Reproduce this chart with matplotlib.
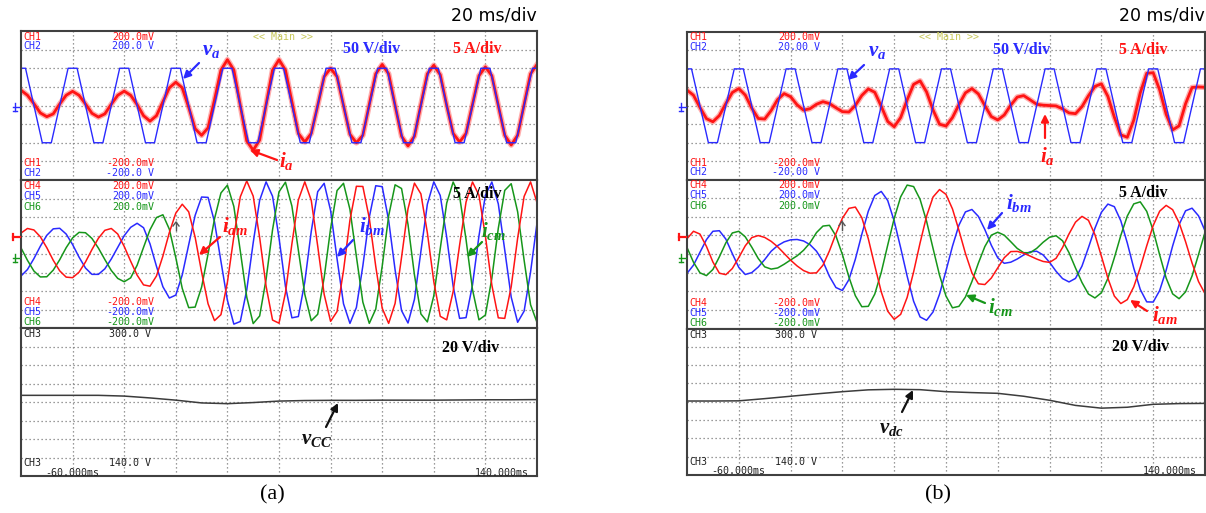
import numpy as np
import matplotlib
matplotlib.use("Agg")
import matplotlib.pyplot as plt
from matplotlib.patches import FancyArrowPatch
from matplotlib.lines import Line2D

plt.rcParams['mathtext.fontset'] = 'custom'
plt.rcParams['mathtext.it'] = 'Liberation Serif:italic:bold'
plt.rcParams['mathtext.rm'] = 'Liberation Serif:bold'
plt.rcParams['mathtext.bf'] = 'Liberation Serif:bold'

# ---------------- data (time in ms, amplitude in screen divisions) ----------------
t_ms = np.arange(-60, 140.01, 2.5)     # sample times of the oscillating traces
t_dc = np.arange(-60, 140.01, 10)      # sample times of the dc-link traces

# grid voltage v_a (trapezoidal), corner points
va_t = [-60, -58.25, -51.75, -48.25, -41.75, -38.25, -31.75, -28.25, -21.75, -18.25,
        -11.75, -8.25, -1.75, 1.75, 8.25, 11.75, 18.25, 21.75, 28.25, 31.75,
        38.25, 41.75, 48.25, 51.75, 58.25, 61.75, 68.25, 71.75, 78.25, 81.75,
        88.25, 91.75, 98.25, 101.75, 108.25, 111.75, 118.25, 121.75, 128.25, 131.75,
        138.25, 140]
va_a = [2, 2, -2, -2, 2, 2, -2, -2, 2, 2, -2, -2, 2, 2, -2, -2, 2, 2, -2, -2,
        2, 2, -2, -2, 2, 2, -2, -2, 2, 2, -2, -2, 2, 2, -2, -2, 2, 2, -2, -2, 2, 2]
va_b = [2, 2, -2, -2, 2, 2, -2, -2, 2, 2, -2, -2, 2, 2, -2, -2, 2, 2, -2, -2,
        2, 2, -2, -2, 2, 2, -2, -2, 2, 2, -2, -2, 2, 2, -2, -2, 2, 2, -2, -2, 2, 2]

ia_a = [0.82, 0.55, 0.10, -0.40, -0.60, -0.45, 0.08, 0.55, 0.76, 0.55,
        0.08, -0.42, -0.62, -0.45, 0.07, 0.55, 0.77, 0.55, 0.05, -0.55,
        -0.84, -0.55, 0.20, 0.95, 1.25, 0.95, -0.10, -1.25, -1.60, -1.20,
        0.30, 1.90, 2.46, 1.90, 0.00, -1.90, -2.40, -1.85, 0.05, 1.90,
        2.46, 1.90, 0.20, -1.50, -1.96, -1.50, 0.00, 1.55, 2.00, 1.55,
        0.00, -1.55, -2.00, -1.60, 0.05, 1.70, 2.20, 1.70, 0.00, -1.65,
        -2.17, -1.65, 0.05, 1.70, 2.16, 1.65, 0.00, -1.50, -1.96, -1.50,
        0.05, 1.60, 2.07, 1.60, 0.00, -1.60, -2.12, -1.60, 0.05, 1.70, 2.20]
ia_b = [0.85, 0.57, -0.09, -0.70, -0.87, -0.53, 0.12, 0.72, 0.93, 0.58,
        -0.13, -0.69, -0.72, -0.26, 0.34, 0.66, 0.49, 0.05, -0.24, -0.16,
        0.08, 0.22, 0.12, -0.11, -0.32, -0.34, 0.02, 0.56, 0.91, 0.73,
        -0.03, -0.85, -1.14, -0.64, 0.32, 1.16, 1.35, 0.75, -0.23, -1.00,
        -1.10, -0.64, 0.06, 0.70, 0.93, 0.64, 0.01, -0.59, -0.77, -0.50,
        0.03, 0.47, 0.55, 0.32, 0.08, 0.03, 0.01, -0.01, -0.17, -0.39,
        -0.43, -0.05, 0.54, 1.05, 1.19, 0.51, -0.62, -1.58, -1.71, -0.78,
        0.70, 1.76, 1.79, 0.86, -0.46, -1.31, -1.09, 0.11, 0.99, 1.02, 1.00]

iam_a = [1.13, 1.38, 1.30, 0.93, 0.34, -0.34, -0.91, -1.25, -1.28, -0.98,
         -0.43, 0.24, 0.85, 1.28, 1.38, 1.08, 0.41, -0.39, -1.14, -1.67,
         -1.74, -1.19, -0.11, 1.16, 2.21, 2.69, 2.28, 0.90, -0.98, -2.69,
         -3.60, -3.28, -1.53, 0.95, 3.09, 3.95, 3.13, 0.89, -1.75, -3.57,
         -3.74, -2.10, 0.55, 2.92, 3.90, 2.90, 0.43, -2.18, -3.64, -3.11,
         -0.90, 1.83, 3.66, 3.65, 1.93, -0.67, -2.93, -3.75, -2.67, -0.18,
         2.44, 3.83, 3.25, 1.15, -1.49, -3.37, -3.56, -2.03, 0.48, 2.81,
         3.89, 3.18, 0.97, -1.68, -3.45, -3.48, -1.77, 0.86, 3.11, 3.90, 2.78]
ibm_a = [-1.19, -0.84, -0.25, 0.42, 1.01, 1.36, 1.39, 1.08, 0.51, -0.17,
         -0.76, -1.10, -1.10, -0.80, -0.27, 0.36, 0.99, 1.44, 1.66, 1.42,
         0.55, -0.66, -1.77, -2.38, -2.22, -1.13, 0.50, 2.09, 3.08, 3.06,
         1.74, -0.40, -2.50, -3.79, -3.65, -1.94, 0.61, 2.90, 3.90, 3.12,
         0.88, -1.75, -3.45, -3.38, -1.51, 1.22, 3.37, 3.82, 2.35, -0.26,
         -2.69, -3.75, -2.89, -0.64, 1.99, 3.69, 3.64, 1.82, -0.86, -3.06,
         -3.73, -2.45, 0.14, 2.69, 3.90, 3.16, 0.91, -1.74, -3.48, -3.44,
         -1.67, 0.97, 3.18, 3.89, 2.71, 0.21, -2.33, -3.69, -3.09, -0.98, 1.67]
icm_a = [0.33, -0.34, -0.92, -1.24, -1.23, -0.87, -0.31, 0.34, 0.87, 1.17,
         1.15, 0.84, 0.32, -0.30, -0.89, -1.32, -1.50, -1.29, -0.61, 0.36,
         1.31, 1.97, 2.12, 1.34, -0.20, -1.86, -2.90, -2.87, -1.79, 0.00,
         1.90, 3.30, 3.72, 2.57, 0.16, -2.33, -3.76, -3.35, -1.36, 1.31,
         3.36, 3.88, 2.59, 0.21, -2.18, -3.61, -3.26, -1.28, 1.38, 3.43,
         3.82, 2.41, -0.14, -2.60, -3.75, -2.98, -0.66, 2.06, 3.74, 3.54,
         1.60, -1.13, -3.24, -3.67, -2.26, 0.29, 2.75, 3.89, 3.12, 0.78,
         -1.92, -3.56, -3.30, -1.31, 1.39, 3.44, 3.80, 2.28, -0.33, -2.74, -3.70]

iam_b = [0.82, 1.22, 1.07, 0.41, -0.43, -1.03, -1.11, -0.78, -0.19, 0.44,
         0.88, 0.99, 0.89, 0.68, 0.39, 0.03, -0.33, -0.64, -0.89, -1.03,
         -1.01, -0.60, 0.17, 1.09, 1.92, 2.45, 2.52, 1.95, 0.82, -0.63,
         -2.03, -3.07, -3.51, -3.24, -2.33, -0.96, 0.60, 2.03, 3.06, 3.46,
         3.20, 2.42, 1.27, 0.03, -1.01, -1.60, -1.64, -1.29, -0.74, -0.20,
         0.13, 0.14, 0.04, -0.11, -0.27, -0.40, -0.45, -0.23, 0.35, 1.08,
         1.71, 2.02, 1.81, 1.04, -0.12, -1.30, -2.26, -2.66, -2.45, -1.76,
         -0.73, 0.44, 1.53, 2.30, 2.61, 2.38, 1.68, 0.66, -0.48, -1.48, -2.13]
ibm_b = [-1.04, -0.60, 0.09, 0.77, 1.22, 1.25, 0.80, 0.02, -0.72, -1.10,
         -1.00, -0.70, -0.30, 0.15, 0.45, 0.65, 0.76, 0.78, 0.70, 0.50,
         0.15, -0.40, -1.20, -1.80, -1.96, -1.38, -0.28, 1.06, 2.30, 3.14,
         3.36, 2.87, 1.77, 0.33, -1.19, -2.54, -3.38, -3.56, -3.11, -2.16,
         -0.90, 0.42, 1.55, 2.26, 2.39, 2.02, 1.31, 0.47, -0.21, -0.50,
         -0.44, -0.27, -0.05, 0.12, 0.15, -0.05, -0.45, -0.93, -1.32, -1.50,
         -1.31, -0.65, 0.34, 1.38, 2.24, 2.68, 2.54, 1.78, 0.59, -0.76,
         -1.90, -2.57, -2.58, -1.96, -0.87, 0.43, 1.58, 2.32, 2.46, 2.05, 1.25]
icm_b = [0.35, -0.44, -1.01, -1.16, -0.83, -0.15, 0.60, 1.13, 1.22, 0.92,
         0.37, -0.24, -0.69, -0.81, -0.75, -0.55, -0.32, -0.10, 0.20, 0.60,
         1.15, 1.50, 1.54, 0.97, -0.03, -1.23, -2.24, -2.83, -2.81, -2.15,
         -0.99, 0.48, 1.91, 3.07, 3.70, 3.62, 2.93, 1.76, 0.30, -1.14,
         -2.26, -2.89, -2.81, -2.31, -1.48, -0.49, 0.40, 1.01, 1.17, 1.01,
         0.66, 0.30, 0.07, 0.07, 0.30, 0.63, 0.90, 0.98, 0.71, 0.07,
         -0.75, -1.53, -2.15, -2.36, -2.08, -1.31, -0.20, 1.00, 2.04, 2.69,
         2.80, 2.29, 1.26, -0.05, -1.29, -2.14, -2.40, -2.03, -1.18, -0.03, 1.16]

vcc_a = [0.36, 0.36, 0.36, 0.36, 0.32, 0.22, 0.10, -0.05, -0.09, -0.03, 0.05,
         0.08, 0.09, 0.09, 0.10, 0.10, 0.10, 0.11, 0.12, 0.12, 0.13]
vdc_b = [0.04, 0.04, 0.05, 0.17, 0.30, 0.43, 0.55, 0.65, 0.68, 0.66, 0.55,
         0.50, 0.46, 0.30, 0.08, -0.20, -0.35, -0.30, -0.14, -0.10, -0.09]

# ---------------- figure ----------------
W, H = 1206, 513
fig = plt.figure(figsize=(W / 100, H / 100), dpi=100)
fig.patch.set_facecolor('white')

RED = '#ff1414'
BLUE = '#2a2aff'
GREEN = '#16961a'
DARK = '#3c3c3c'
OLIVE = '#c8c85a'


def px_axes(x0, x1, y0, y1):
    ax = fig.add_axes([x0 / W, 1 - y1 / H, (x1 - x0) / W, (y1 - y0) / H])
    ax.set_xlim(-60, 140)
    ax.set_ylim(-4, 4)
    ax.set_xticks(np.arange(-40, 121, 20))
    ax.set_yticks(np.arange(-3, 4, 1))
    ax.grid(True, color='#7a7a7a', linestyle=(0, (1, 2.2)), linewidth=0.9)
    ax.tick_params(length=0, labelbottom=False, labelleft=False)
    for s in ax.spines.values():
        s.set_color('#404040')
        s.set_linewidth(1.5)
    return ax


def ftext(x, y, s, **kw):
    fig.text(x / W, 1 - y / H, s, **kw)


def farrow(x0, y0, x1, y1, color):
    fig.add_artist(FancyArrowPatch((x0 / W, 1 - y0 / H), (x1 / W, 1 - y1 / H),
                                   transform=fig.transFigure, arrowstyle='-|>',
                                   mutation_scale=11, color=color, lw=1.6,
                                   shrinkA=0, shrinkB=0))


def fline(xs, ys, color, lw=1.2):
    fig.add_artist(Line2D([x / W for x in xs], [1 - y / H for y in ys],
                          transform=fig.transFigure, color=color, lw=lw))


MONO = dict(family='DejaVu Sans Mono', fontsize=7.2, va='center')
LBL = dict(fontsize=15, va='center', ha='left')
DIV = dict(family='Liberation Serif', weight='bold', fontsize=11.5, va='center', ha='center')

panels = [
    dict(x0=21, x1=537, ys=[31, 180, 328, 476], va=va_a, ia=ia_a, iam=iam_a,
         ibm=ibm_a, icm=icm_a, dc=vcc_a, ch2='200.0 V', ch2n='-200.0 V', tag='(a)'),
    dict(x0=687, x1=1205, ys=[32, 179.5, 328.5, 475], va=va_b, ia=ia_b, iam=iam_b,
         ibm=ibm_b, icm=icm_b, dc=vdc_b, ch2='20.00 V', ch2n='-20.00 V', tag='(b)'),
]

for p in panels:
    x0, x1 = p['x0'], p['x1']
    y0, y1, y2, y3 = p['ys']
    top = px_axes(x0, x1, y0, y1)
    mid = px_axes(x0, x1, y1, y2)
    bot = px_axes(x0, x1, y2, y3)

    top.plot(t_ms, p['ia'], color='#ff6a6a', lw=4.0, alpha=0.55, solid_joinstyle='round')
    top.plot(t_ms, p['ia'], color=RED, lw=2.0)
    top.plot(va_t, p['va'], color=BLUE, lw=1.0)

    mid.plot(t_ms, p['ibm'], color=BLUE, lw=1.1)
    mid.plot(t_ms, p['icm'], color=GREEN, lw=1.1)
    mid.plot(t_ms, p['iam'], color=RED, lw=1.1)

    bot.plot(t_dc, p['dc'], color=DARK, lw=1.1)

    # scope overlay texts
    xr = x0 + 133
    ftext(x0 + 2, y0 + 5.5, 'CH1', color=RED, **MONO)
    ftext(xr, y0 + 5.5, '200.0mV', color=RED, ha='right', **MONO)
    ftext(x0 + 2, y0 + 15, 'CH2', color=BLUE, **MONO)
    ftext(xr, y0 + 15, p['ch2'], color=BLUE, ha='right', **MONO)
    ftext(x0 + 262, y0 + 5.5, '<< Main >>', color=OLIVE, ha='center', **MONO)
    ftext(x0 + 2, y1 - 17, 'CH1', color=RED, **MONO)
    ftext(xr, y1 - 17, '-200.0mV', color=RED, ha='right', **MONO)
    ftext(x0 + 2, y1 - 7.5, 'CH2', color=BLUE, **MONO)
    ftext(xr, y1 - 7.5, p['ch2n'], color=BLUE, ha='right', **MONO)

    for i, (nm, col) in enumerate([('CH4', RED), ('CH5', BLUE), ('CH6', GREEN)]):
        ftext(x0 + 2, y1 + 5.5 + 10.5 * i, nm, color=col, **MONO)
        ftext(xr, y1 + 5.5 + 10.5 * i, '200.0mV', color=col, ha='right', **MONO)
        ftext(x0 + 2, y2 - 26 + 10 * i, nm, color=col, **MONO)
        ftext(xr, y2 - 26 + 10 * i, '-200.0mV', color=col, ha='right', **MONO)

    ftext(x0 + 2, y2 + 6, 'CH3', color='#222222', **MONO)
    ftext(xr - 3, y2 + 6, '300.0 V', color='#222222', ha='right', **MONO)
    ftext(x0 + 2, y3 - 13, 'CH3', color='#222222', **MONO)
    ftext(xr - 3, y3 - 13, '140.0 V', color='#222222', ha='right', **MONO)
    ftext(x0 + 24, y3 - 3.5, '-60.000ms', color='#222222', ha='left', **MONO)
    ftext(x1 - 8, y3 - 3.5, '140.000ms', color='#222222', ha='right', **MONO)

    # left-edge symbols
    yc = (y0 + y1) / 2 + 1.5
    fline([x0 - 8, x0 - 1], [yc, yc], BLUE, 1.0)
    fline([x0 - 6, x0 - 6], [yc - 4, yc + 4], BLUE, 1.0)
    fline([x0 - 8, x0 - 4], [yc + 4, yc + 4], BLUE, 1.0)
    ym = (y1 + y2) / 2
    fline([x0 - 8, x0 - 1], [ym - 17, ym - 17], RED, 1.6)
    fline([x0 - 8, x0 - 8], [ym - 20, ym - 14], RED, 1.6)
    fline([x0 - 8, x0 - 1], [ym + 4, ym + 4], GREEN, 1.0)
    fline([x0 - 6, x0 - 6], [ym, ym + 8], GREEN, 1.0)
    fline([x0 - 8, x0 - 4], [ym + 8, ym + 8], GREEN, 1.0)
    # trigger position marker
    fline([x0 + 152, x0 + 155, x0 + 158], [y1 + 46, y1 + 42, y1 + 46], '#555555', 1.0)
    fline([x0 + 155, x0 + 155], [y1 + 42, y1 + 50], '#555555', 1.0)

    ftext(x1, 15.5, '20 ms/div', family='DejaVu Sans', fontsize=12.5, ha='right', va='center')
    ftext(x0 + 251, 495, p['tag'], family='Liberation Serif', fontsize=16,
          ha='center', va='center')

# ---- panel (a) annotations ----
ftext(372, 49, '50 V/div', color=BLUE, **DIV)
ftext(477, 49, '5 A/div', color=RED, **DIV)
ftext(477, 194, '5 A/div', color='black', **DIV)
ftext(471, 348, '20 V/div', color='black', **DIV)
ftext(202, 50, r'$v_a$', color=BLUE, **LBL)
farrow(199, 63, 183, 79, BLUE)
ftext(279, 161, r'$i_a$', color=RED, **LBL)
farrow(277, 160, 250, 150, RED)
ftext(222, 226, r'$i_{am}$', color=RED, **LBL)
farrow(220, 237, 199, 255, RED)
ftext(359, 226, r'$i_{bm}$', color=BLUE, **LBL)
farrow(353, 240, 337, 257, BLUE)
ftext(481, 231, r'$i_{cm}$', color=GREEN, **LBL)
farrow(482, 242, 467, 257, GREEN)
ftext(301, 439, r'$v_{CC}$', color='#111111', **LBL)
farrow(326, 427, 338, 403, '#111111')

# ---- panel (b) annotations ----
ftext(1022, 50, '50 V/div', color=BLUE, **DIV)
ftext(1143, 50, '5 A/div', color=RED, **DIV)
ftext(1143, 193, '5 A/div', color='black', **DIV)
ftext(1141, 347, '20 V/div', color='black', **DIV)
ftext(868, 51, r'$v_a$', color=BLUE, **LBL)
farrow(864, 65, 848, 80, BLUE)
ftext(1040, 156, r'$i_a$', color=RED, **LBL)
farrow(1045, 138, 1045, 114, RED)
ftext(1006, 203, r'$i_{bm}$', color=BLUE, **LBL)
farrow(1002, 213, 987, 230, BLUE)
ftext(988, 307, r'$i_{cm}$', color=GREEN, **LBL)
farrow(985, 303, 966, 295, GREEN)
ftext(1152, 315, r'$i_{am}$', color=RED, **LBL)
farrow(1147, 311, 1130, 300, RED)
ftext(879, 428, r'$v_{dc}$', color='#111111', **LBL)
farrow(902, 412, 913, 390, '#111111')

fig.savefig('out.png', dpi=100, facecolor='white')
